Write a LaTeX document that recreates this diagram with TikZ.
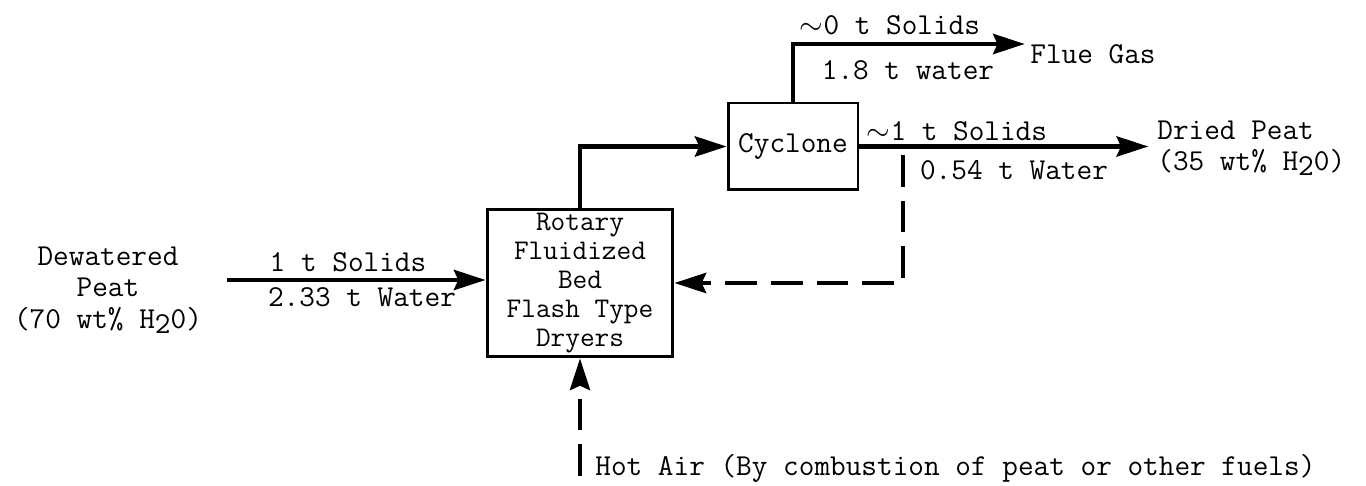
\documentclass[tikz,border=0pt]{standalone}
\usepackage{fontspec}
\usetikzlibrary{arrows.meta}

\begin{document}
\begin{tikzpicture}[
    x=0.02cm, y=-0.02cm,
    every node/.style={font=\ttfamily\fontsize{17.3}{18.2}\selectfont, inner sep=0pt, align=center},
    unit/.style={draw, line width=1.7pt},
    flow/.style={line width=2.4pt, -{Stealth[length=18pt, width=11.5pt, inset=2.5pt]}},
    gasflow/.style={flow, dash pattern=on 18pt off 8pt}
]
\useasboundingbox (0,0) rectangle (1366,486);

% Units
\node[unit, minimum width=3.72cm, minimum height=2.96cm,
      font=\ttfamily\fontsize{16.2}{16.6}\selectfont] (dryer) at (580,283)
      {Rotary\\Fluidized\\Bed\\Flash Type\\Dryers};
\node[unit, minimum width=2.6cm, minimum height=1.74cm] (cyclone) at (793,146.5) {Cyclone};

% Feed
\node (feed) at (108,290) {Dewatered\\Peat\\(70 wt\% H\raisebox{-0.35ex}{2}0)};
\coordinate (feedstart) at (227,280);
\draw[flow] (feedstart) -- (feedstart -| dryer.west);
\node (solidsin) at (348,262) {1 t Solids};
\node (waterin) at (362,297) {2.33 t Water};

% Dryer to cyclone
\draw[flow] (dryer.north) |- (cyclone.west);

% Flue gas
\node[anchor=north west] (flue) at (1030,44) {Flue Gas};
\draw[flow, shorten >=3pt] (cyclone.north) |- (flue.north west);
\node (solidsgas) at (890,25) {$\sim$0 t Solids};
\node (watergas) at (908,70) {1.8 t water};

% Product
\node[anchor=west, align=left] (product) at (1157,148)
      {Dried Peat\\(35 wt\% H\raisebox{-0.35ex}{2}0)};
\draw[flow, shorten >=5pt] (cyclone.east) -- (cyclone.east -| product.west);
\node (solidsout) at (957,131) {$\sim$1 t Solids};
\node (waterout) at (1014,170) {0.54 t Water};

% Recycle
\coordinate (split) at (903,155);
\draw[gasflow] (split) |- (dryer.east);

% Hot air
\node[anchor=west] (air) at (595,468) {Hot Air (By combustion of peat or other fuels)};
\coordinate (airstart) at (dryer.south |- 0,476);
\draw[gasflow] (airstart) -- (dryer.south);
\end{tikzpicture}
\end{document}
